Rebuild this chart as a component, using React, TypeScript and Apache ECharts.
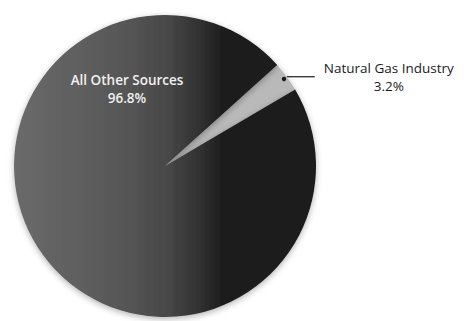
import React, { useEffect, useRef } from "react";
import * as echarts from "echarts";

const categories = ["Natural Gas Industry", "All Other Sources"];
const shares = [3.2, 96.8];
const sliceColors = ["#b9b9b9", "dark"];

export default function App() {
  const ref = useRef<HTMLDivElement>(null);

  useEffect(() => {
    if (!ref.current) return;
    const chart = echarts.init(ref.current, undefined, { renderer: "svg" });

    const bodyFill = new echarts.graphic.LinearGradient(
      15,
      0,
      318,
      0,
      [
        { offset: 0, color: "#6a6a6a" },
        { offset: 0.35, color: "#575757" },
        { offset: 0.5, color: "#484848" },
        { offset: 0.6, color: "#333333" },
        { offset: 0.68, color: "#1f1f1f" },
        { offset: 1, color: "#1a1a1a" },
      ],
      true
    );

    const textStyle = {
      fontFamily: "Open Sans",
      fontSize: 13.5,
      color: "#1a1a1a",
      width: 146,
      align: "center",
      lineHeight: 18,
    };

    const data = categories.map((name, i) => ({
      name,
      value: shares[i],
      itemStyle: { color: i === 0 ? sliceColors[0] : bodyFill },
      label:
        i === 0
          ? {
              show: true,
              position: "outside",
              distanceToLabelLine: 1,
              formatter: `{a|${name}}\n{b|${shares[i]}%}`,
              rich: { a: textStyle, b: textStyle },
            }
          : { show: false },
      labelLine:
        i === 0
          ? {
              show: true,
              length: 0,
              length2: 28,
              lineStyle: { color: "#1a1a1a", width: 1.2 },
            }
          : { show: false },
    }));

    const innerText = (text: string, y: number) => ({
      type: "text",
      x: 127,
      y,
      z: 100,
      style: {
        text,
        fill: "#f0f0f0",
        fontFamily: "Open Sans",
        fontWeight: 600,
        fontSize: 13.5,
        align: "center",
        verticalAlign: "middle",
      },
    });

    chart.setOption({
      animation: false,
      backgroundColor: "#ffffff",
      series: [
        {
          type: "pie",
          center: [165, 166],
          radius: [0, 151],
          startAngle: 42,
          clockwise: true,
          avoidLabelOverlap: false,
          itemStyle: {
            borderWidth: 0,
            shadowBlur: 6,
            shadowColor: "rgba(0,0,0,0.3)",
            shadowOffsetY: 2,
          },
          labelLine: { showAbove: true },
          emphasis: { disabled: true },
          data,
        },
      ],
      graphic: [
        {
          type: "circle",
          shape: { cx: 284, cy: 79, r: 2.2 },
          style: { fill: "#1a1a1a" },
          z: 100,
        },
        innerText(categories[1], 80),
        innerText(`${shares[1]}%`, 98),
      ],
    });

    return () => chart.dispose();
  }, []);

  return (
    <div
      ref={ref}
      style={{ position: "fixed", left: 0, top: 0, width: 466, height: 321 }}
    />
  );
}
